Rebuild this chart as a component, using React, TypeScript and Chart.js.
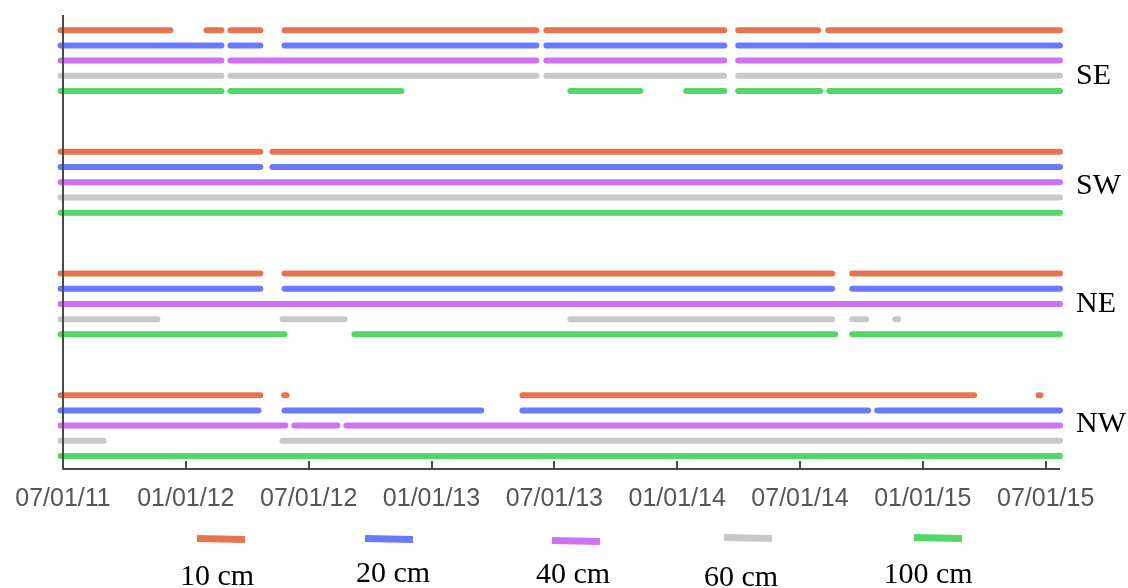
import React, { useEffect, useRef } from "react";
import { Chart, registerables } from "chart.js";

Chart.register(...registerables);

// Months since 07/01/11
const tickMonths = [0, 6, 12, 18, 24, 30, 36, 42, 48];
const tickLabels = ["07/01/11", "01/01/12", "07/01/12", "01/01/13", "07/01/13", "01/01/14", "07/01/14", "01/01/15", "07/01/15"];

const depthLabels = ["10 cm", "20 cm", "40 cm", "60 cm", "100 cm"];
const depthColors = ["#E8744F", "#6B78FF", "#CF70F7", "#C8C8C8", "#53D767"];
const groupLabels = ["SE", "SW", "NE", "NW"];

// Data coverage periods [start, end] in months since 07/01/11, per depth (10, 20, 40, 60, 100 cm)
const SE = [
  [[-0.12, 5.25], [7.01, 7.74], [8.18, 9.64], [10.82, 23.12], [23.61, 32.3], [32.98, 36.89], [37.38, 48.7]],
  [[-0.12, 7.74], [8.18, 9.64], [10.82, 23.12], [23.61, 32.3], [32.98, 48.7]],
  [[-0.12, 7.74], [8.18, 23.12], [23.61, 32.3], [32.98, 48.7]],
  [[-0.12, 7.74], [8.18, 23.12], [23.61, 32.3], [32.98, 48.7]],
  [[-0.12, 7.74], [8.18, 16.53], [24.78, 28.2], [30.44, 32.3], [32.98, 36.99], [37.43, 48.7]],
];
const SW = [
  [[-0.12, 9.64], [10.23, 48.7]],
  [[-0.12, 9.64], [10.23, 48.7]],
  [[-0.12, 48.7]],
  [[-0.12, 48.7]],
  [[-0.12, 48.7]],
];
const NE = [
  [[-0.12, 9.64], [10.82, 37.57], [38.55, 48.7]],
  [[-0.12, 9.64], [10.82, 37.57], [38.55, 48.7]],
  [[-0.12, 48.7]],
  [[-0.12, 4.61], [10.72, 13.75], [24.78, 37.57], [38.55, 39.23], [40.65, 40.8]],
  [[-0.12, 10.82], [14.23, 37.72], [38.55, 48.7]],
];
const NW = [
  [[-0.12, 9.64], [10.8, 10.92], [22.44, 44.51], [47.65, 47.75]],
  [[-0.12, 9.55], [10.82, 20.43], [22.44, 39.33], [39.77, 48.7]],
  [[-0.12, 10.86], [11.3, 13.4], [13.84, 48.7]],
  [[-0.12, 1.98], [10.72, 48.7]],
  [[-0.12, 48.7]],
];
const groups = [SE, SW, NE, NW];

// label anchor (in row units) for each group name on the right
const groupLabelRows = [24.98, 17.75, 9.99, 2.1];

function rowOf(g: number, d: number) {
  return (3 - g) * 8 + (4 - d);
}

const overlayPlugin = {
  id: "overlay",
  afterDatasetsDraw(chart: any) {
    const { ctx, chartArea, scales } = chart;
    const xs = scales.x;
    ctx.save();
    ctx.strokeStyle = "#4a4a4a";
    ctx.lineWidth = 2;
    ctx.lineCap = "butt";
    ctx.beginPath();
    ctx.moveTo(chartArea.left, chartArea.top);
    ctx.lineTo(chartArea.left, chartArea.bottom);
    ctx.lineTo(chartArea.right, chartArea.bottom);
    ctx.stroke();
    ctx.beginPath();
    tickMonths.forEach((m) => {
      const px = Math.round(xs.getPixelForValue(m));
      ctx.moveTo(px, chartArea.bottom);
      ctx.lineTo(px, chartArea.bottom - 8);
    });
    ctx.stroke();

    // legend
    const lineCx = [221, 389, 576, 748, 938];
    const lineY = [539, 539, 541, 538, 538];
    const textCx = [217, 393, 573, 741, 928];
    const textBase = [585, 582, 583, 586, 583];
    chart.data.datasets.forEach((ds: any, i: number) => {
      ctx.strokeStyle = ds.borderColor;
      ctx.lineWidth = 7;
      ctx.beginPath();
      ctx.moveTo(lineCx[i] - 24, lineY[i] - 0.5);
      ctx.lineTo(lineCx[i] + 24, lineY[i] + 0.5);
      ctx.stroke();
      ctx.fillStyle = "#000";
      ctx.font = "30px 'Liberation Serif'";
      ctx.textAlign = "center";
      ctx.textBaseline = "alphabetic";
      ctx.fillText(ds.label, textCx[i], textBase[i]);
    });
    ctx.restore();
  },
};

export default function App() {
  const ref = useRef<HTMLCanvasElement>(null);
  useEffect(() => {
    document.body.style.margin = "0";
    const datasets = depthLabels.map((label, d) => {
      const data: any[] = [];
      groups.forEach((grp, g) => {
        const y = rowOf(g, d);
        grp[d].forEach(([s, e]) => {
          data.push({ x: s, y });
          data.push({ x: e, y });
          data.push({ x: e, y: null });
        });
      });
      return {
        label,
        data,
        borderColor: depthColors[d],
        backgroundColor: depthColors[d],
        borderWidth: 6,
        borderCapStyle: "round",
        pointRadius: 0,
        pointHoverRadius: 0,
        spanGaps: false,
        tension: 0,
        clip: false,
        fill: false,
      };
    });
    const chart = new Chart(ref.current!, {
      type: "line",
      data: { datasets } as any,
      plugins: [overlayPlugin],
      options: {
        animation: false,
        responsive: false,
        devicePixelRatio: 1,
        layout: { padding: { left: 63, top: 15, right: 0, bottom: 0 } },
        plugins: { legend: { display: false }, tooltip: { enabled: false } },
        scales: {
          x: {
            type: "linear",
            min: 0,
            max: 48.7,
            grid: { display: false, drawTicks: false },
            border: { display: false },
            afterBuildTicks: (axis: any) => {
              axis.ticks = tickMonths.map((v) => ({ value: v }));
            },
            afterFit: (axis: any) => {
              axis.height = 119;
            },
            ticks: {
              autoSkip: false,
              maxRotation: 0,
              padding: 15,
              color: "#555555",
              font: { family: "'Liberation Sans', Arial, sans-serif", size: 25 },
              callback: (_v: any, i: number) => tickLabels[i],
            },
          },
          y: {
            type: "linear",
            display: false,
            min: -0.855,
            max: 29.0,
          },
          yr: {
            type: "linear",
            position: "right",
            min: -0.855,
            max: 29.0,
            grid: { display: false, drawTicks: false },
            border: { display: false },
            afterBuildTicks: (axis: any) => {
              axis.ticks = groupLabelRows.map((v) => ({ value: v }));
            },
            afterFit: (axis: any) => {
              axis.width = 68;
              axis.paddingTop = 0;
              axis.paddingBottom = 0;
            },
            ticks: {
              autoSkip: false,
              padding: 16,
              color: "#000000",
              font: { family: "'Liberation Serif', 'Times New Roman', serif", size: 30 },
              callback: (_v: any, i: number) => groupLabels[i],
            },
          },
        },
      } as any,
    });
    return () => chart.destroy();
  }, []);
  return (
    <div style={{ width: 1128, height: 588 }}>
      <canvas ref={ref} width={1128} height={588} style={{ display: "block" }} />
    </div>
  );
}
